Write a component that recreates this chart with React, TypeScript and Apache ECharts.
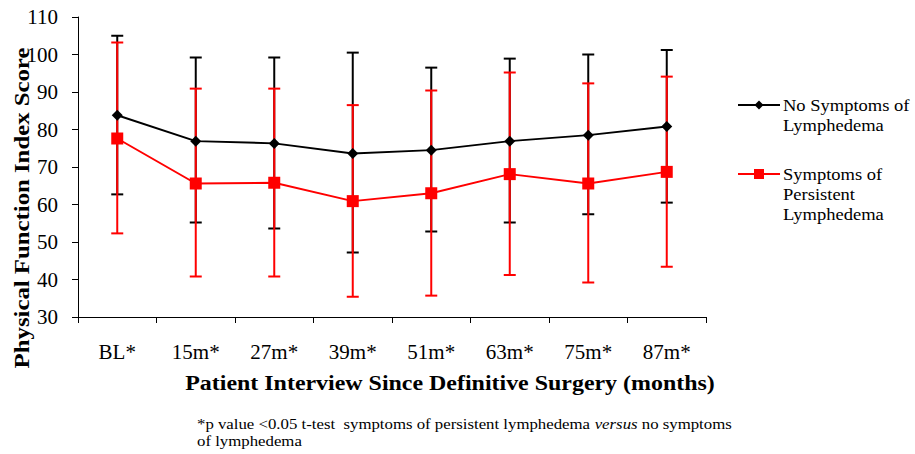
import React, { useEffect, useRef } from "react";
import * as echarts from "echarts";

const categories = ["BL*", "15m*", "27m*", "39m*", "51m*", "63m*", "75m*", "87m*"];
const noSymMean = [83.8, 76.9, 76.3, 73.6, 74.5, 76.9, 78.5, 80.8];
const noSymUpper = [105.0, 99.2, 99.2, 100.5, 96.5, 98.9, 100.0, 101.2];
const noSymLower = [62.7, 55.2, 53.6, 47.2, 52.8, 55.2, 57.4, 60.5];
const persMean = [77.6, 65.6, 65.8, 60.9, 63.0, 68.1, 65.6, 68.7];
const persUpper = [103.2, 90.9, 90.9, 86.5, 90.4, 95.2, 92.3, 94.1];
const persLower = [52.3, 40.8, 40.8, 35.4, 35.7, 41.2, 39.2, 43.4];
const yTicks = { min: 30, max: 110, interval: 10 };

const FONT = "Liberation Serif";
const BLACK = "#000000";
const RED = "#ff0000";

function errorSeries(lower: number[], upper: number[], color: string, name: string) {
  return {
    type: "custom",
    name,
    data: lower.map((lo, i) => [i, lo, upper[i]]),
    encode: { x: 0, y: [1, 2] },
    z: 2,
    silent: true,
    renderItem: (params: any, api: any) => {
      const x = api.value(0);
      const lo = api.coord([x, api.value(1)]);
      const hi = api.coord([x, api.value(2)]);
      const hw = 6;
      const style = { stroke: color, lineWidth: 2 };
      return {
        type: "group",
        children: [
          { type: "line", shape: { x1: lo[0], y1: lo[1], x2: hi[0], y2: hi[1] }, style },
          { type: "line", shape: { x1: lo[0] - hw, y1: lo[1], x2: lo[0] + hw, y2: lo[1] }, style },
          { type: "line", shape: { x1: hi[0] - hw, y1: hi[1], x2: hi[0] + hw, y2: hi[1] }, style },
        ],
      };
    },
  };
}

export default function App() {
  const ref = useRef<HTMLDivElement>(null);
  useEffect(() => {
    if (!ref.current) return;
    const chart = echarts.init(ref.current, null, { renderer: "svg" });
    chart.setOption({
      animation: false,
      backgroundColor: "#ffffff",
      grid: { left: 78, right: 209, top: 17, bottom: 137 },
      xAxis: {
        type: "category",
        data: categories,
        boundaryGap: true,
        axisLine: { lineStyle: { color: BLACK, width: 1 } },
        axisTick: { show: true, alignWithLabel: false, length: 6, lineStyle: { color: BLACK } },
        axisLabel: { color: BLACK, fontFamily: FONT, fontSize: 21, margin: 24 },
      },
      yAxis: {
        type: "value",
        min: yTicks.min,
        max: yTicks.max,
        interval: yTicks.interval,
        axisLine: { show: true, lineStyle: { color: BLACK, width: 1 } },
        axisTick: { show: true, length: 6, lineStyle: { color: BLACK } },
        splitLine: { show: false },
        axisLabel: { color: BLACK, fontFamily: FONT, fontSize: 21, margin: 20 },
      },
      series: [
        errorSeries(noSymLower, noSymUpper, BLACK, "noSymErr"),
        errorSeries(persLower, persUpper, RED, "persErr"),
        {
          type: "line",
          name: "No Symptoms of Lymphedema",
          data: noSymMean,
          symbol: "diamond",
          symbolSize: 11,
          z: 3,
          lineStyle: { color: BLACK, width: 2 },
          itemStyle: { color: BLACK },
        },
        {
          type: "line",
          name: "Symptoms of Persistent Lymphedema",
          data: persMean,
          symbol: "rect",
          symbolSize: 12,
          z: 4,
          lineStyle: { color: RED, width: 2 },
          itemStyle: { color: RED },
        },
      ],
      graphic: [
        {
          type: "text",
          x: 22,
          y: 208,
          rotation: Math.PI / 2,
          scaleX: 1.18,
          style: {
            text: "Physical Function Index Score",
            fontFamily: FONT,
            fontSize: 21,
            fontWeight: "bold",
            fill: BLACK,
            align: "center",
            verticalAlign: "middle",
          },
        },
        {
          type: "text",
          x: 450,
          y: 383,
          scaleX: 1.14,
          style: {
            text: "Patient Interview Since Definitive Surgery (months)",
            fontFamily: FONT,
            fontSize: 21,
            fontWeight: "bold",
            fill: BLACK,
            align: "center",
            verticalAlign: "middle",
          },
        },
        // legend
        { type: "line", shape: { x1: 738, y1: 105, x2: 780, y2: 105 }, style: { stroke: BLACK, lineWidth: 2 } },
        { type: "polygon", shape: { points: [[759, 100.5], [763.5, 105], [759, 109.5], [754.5, 105]] }, style: { fill: BLACK } },
        {
          type: "text",
          x: 783,
          y: 95,
          scaleX: 1.09,
          style: {
            text: "No Symptoms of\nLymphedema",
            fontFamily: FONT,
            fontSize: 17,
            fill: BLACK,
            lineHeight: 20,
            align: "left",
            verticalAlign: "top",
          },
        },
        { type: "line", shape: { x1: 738, y1: 174, x2: 780, y2: 174 }, style: { stroke: RED, lineWidth: 2 } },
        { type: "rect", shape: { x: 754, y: 169, width: 10, height: 10 }, style: { fill: RED } },
        {
          type: "text",
          x: 783,
          y: 164,
          scaleX: 1.09,
          style: {
            text: "Symptoms of\nPersistent\nLymphedema",
            fontFamily: FONT,
            fontSize: 17,
            fill: BLACK,
            lineHeight: 20,
            align: "left",
            verticalAlign: "top",
          },
        },
        // footnote
        {
          type: "text",
          x: 197,
          y: 415,
          scaleX: 1.12,
          style: {
            text: "{n|*p value <0.05 t-test  symptoms of persistent lymphedema }{i|versus}{n| no symptoms}\n{n|of lymphedema}",
            fill: BLACK,
            align: "left",
            verticalAlign: "top",
            rich: {
              n: { fontFamily: FONT, fontSize: 15, fill: BLACK, lineHeight: 17 },
              i: { fontFamily: FONT, fontSize: 15, fontStyle: "italic", fill: BLACK, lineHeight: 17 },
            },
          },
        },
      ],
    });
    return () => chart.dispose();
  }, []);
  return <div ref={ref} style={{ width: 915, height: 454, position: "absolute", left: 0, top: 0 }} />;
}
